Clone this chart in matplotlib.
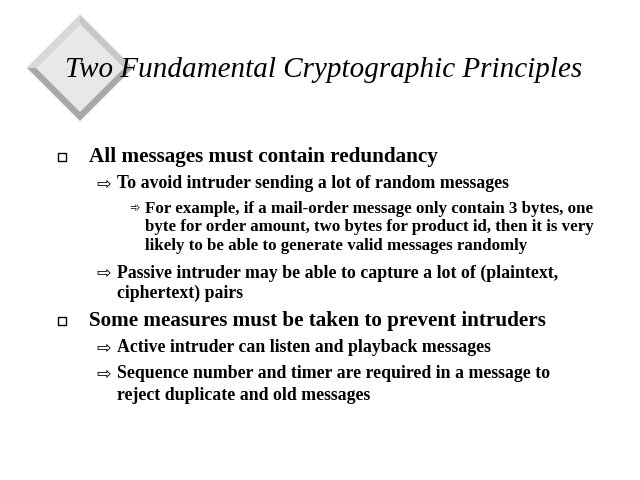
import matplotlib
matplotlib.use("Agg")
import matplotlib.pyplot as plt
from matplotlib.patches import Polygon

title = "Two Fundamental Cryptographic Principles"
# (level, y, text)
lines = [
    (1, 157, "All messages must contain redundancy"),
    (2, 184, "To avoid intruder sending a lot of random messages"),
    (3, 209, "For example, if a mail-order message only contain 3 bytes, one"),
    (0, 227, "byte for order amount, two bytes for product id, then it is very"),
    (0, 246, "likely to be able to generate valid messages randomly"),
    (2, 273, "Passive intruder may be able to capture a lot of (plaintext,"),
    (-2, 293, "ciphertext) pairs"),
    (1, 321, "Some measures must be taken to prevent intruders"),
    (2, 348, "Active intruder can listen and playback messages"),
    (2, 374, "Sequence number and timer are required in a message to"),
    (-2, 395, "reject duplicate and old messages"),
]

fig = plt.figure(figsize=(6.4, 4.8), dpi=100)
ax = fig.add_axes([0, 0, 1, 1])
ax.set_xlim(0, 640); ax.set_ylim(480, 0); ax.axis("off")

cx, cy, r, b = 80, 68, 53, 9
ax.add_patch(Polygon([(cx, cy-r), (cx+r, cy), (cx, cy+r), (cx-r, cy)], closed=True, fc="#a8a8a8", ec="none"))
ax.add_patch(Polygon([(cx-r, cy), (cx, cy-r), (cx+r, cy), (cx+r-b, cy), (cx, cy-r+b), (cx-r+b, cy)], closed=True, fc="#d8d8d8", ec="none"))
ax.add_patch(Polygon([(cx, cy-r), (cx+r, cy), (cx+r-b, cy), (cx, cy-r+b)], closed=True, fc="#c8c8c8", ec="none"))
ax.add_patch(Polygon([(cx, cy-r+b), (cx+r-b, cy), (cx, cy+r-b), (cx-r+b, cy)], closed=True, fc="#e8e8e8", ec="none"))

ax.text(65, 70, title, family="Liberation Serif", style="italic", fontsize=21, va="center", ha="left")

for lvl, y, t in lines:
    if lvl == 1:
        ax.add_patch(plt.Rectangle((58, y-4), 8, 8, fc="white", ec="black", lw=1))
        ax.text(89, y, t, family="Liberation Serif", weight="bold", fontsize=15.2, va="center")
    elif lvl == 2:
        ax.text(96, y, "\u21e8", family="DejaVu Sans", fontsize=12.5, va="center")
        ax.text(117, y, t, family="Liberation Serif", weight="bold", fontsize=12.8, va="center")
    elif lvl == -2:
        ax.text(117, y, t, family="Liberation Serif", weight="bold", fontsize=12.8, va="center")
    elif lvl == 3:
        ax.text(129, y, "\u27be", family="DejaVu Sans", fontsize=9, va="center")
        ax.text(145, y, t, family="Liberation Serif", weight="bold", fontsize=12.2, va="center")
    else:
        ax.text(145, y, t, family="Liberation Serif", weight="bold", fontsize=12.2, va="center")

fig.savefig("out.png", dpi=100)
